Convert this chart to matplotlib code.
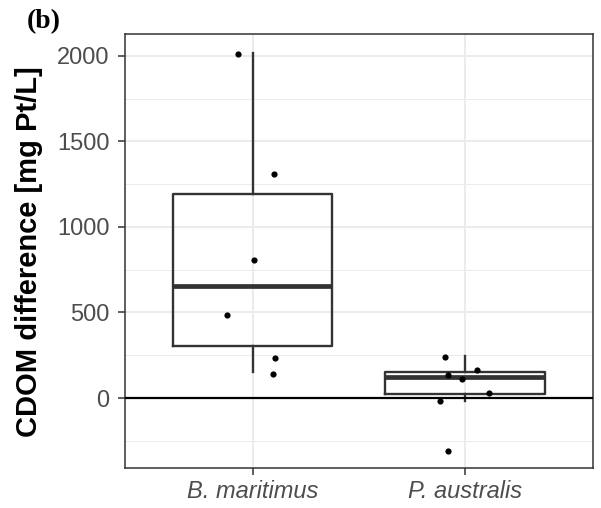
import matplotlib
matplotlib.use("Agg")
import matplotlib.pyplot as plt
from matplotlib.ticker import MultipleLocator

# ---------------- data ----------------
categories = ["B. maritimus", "P. australis"]
bm_values = [2013, 1312, 809, 487, 236, 142]
bm_jitter = [-0.070, 0.099, 0.008, -0.119, 0.108, 0.096]
pa_values = [242, 164, 136, 111, 31, -17, -308]
pa_jitter = [-0.092, 0.058, -0.080, -0.012, 0.111, -0.119, -0.078]

box_whislo = [152, -16]
box_q1 = [305, 22]
box_med = [655, 123]
box_q3 = [1195, 154]
box_whishi = [2015, 247]

y_ticks = [0, 500, 1000, 1500, 2000]
y_label = "CDOM difference [mg Pt/L]"
panel_tag = "(b)"

# ---------------- figure ----------------
W, H = 601, 508
fig = plt.figure(figsize=(W / 100, H / 100), dpi=100)
ax = fig.add_axes([125 / W, 40 / H, (592.5 - 125) / W, (468 - 34) / H])

grey20 = "#333333"
grey30 = "#4D4D4D"
grid_c = "#EBEBEB"

positions = [1, 2]
stats = []
for i, cat in enumerate(categories):
    stats.append(dict(label=cat, whislo=box_whislo[i], q1=box_q1[i], med=box_med[i],
                      q3=box_q3[i], whishi=box_whishi[i], fliers=[]))

ax.bxp(stats, positions=positions, widths=0.75, showcaps=False, showfliers=False,
       patch_artist=False,
       boxprops=dict(color=grey20, linewidth=1.7),
       whiskerprops=dict(color=grey20, linewidth=1.7),
       medianprops=dict(color=grey20, linewidth=3.4, solid_capstyle="butt"),
       zorder=3)

ax.axhline(0, color="black", linewidth=1.6, zorder=4)

ax.scatter([positions[0] + j for j in bm_jitter], bm_values, s=20, color="black",
           zorder=5, linewidths=0)
ax.scatter([positions[1] + j for j in pa_jitter], pa_values, s=20, color="black",
           zorder=5, linewidths=0)

ax.set_xlim(0.4, 2.6)
ax.set_ylim(-409, 2128)
ax.set_xticks(positions)
ax.set_xticklabels(categories, fontstyle="italic")
ax.set_yticks(y_ticks)
ax.yaxis.set_minor_locator(MultipleLocator(250))

ax.grid(True, which="major", color=grid_c, linewidth=1.4, zorder=0)
ax.grid(True, which="minor", axis="y", color=grid_c, linewidth=0.7, zorder=0)
ax.set_axisbelow(True)

ax.tick_params(axis="both", which="major", length=5, width=1.1, color=grey20,
               labelcolor=grey30, labelsize=17)
ax.tick_params(axis="y", which="major", pad=6)
ax.tick_params(axis="x", which="major", pad=4)
ax.tick_params(which="minor", length=0)
for lab in ax.get_xticklabels() + ax.get_yticklabels():
    lab.set_fontfamily("Liberation Sans")
for lab in ax.get_xticklabels():
    lab.set_fontstyle("italic")

for s in ax.spines.values():
    s.set_color(grey20)
    s.set_linewidth(1.1)

fig.text(28.7 / W, 1 - 252 / H, y_label, rotation=90, ha="center", va="center",
         fontsize=21, fontweight="bold", family="Liberation Sans", color="black")
fig.text(27 / W, 1 - 22 / H, panel_tag, ha="left", va="center", fontsize=20,
         fontweight="bold", family="Liberation Serif", color="black")

fig.savefig("out.png", dpi=100)
